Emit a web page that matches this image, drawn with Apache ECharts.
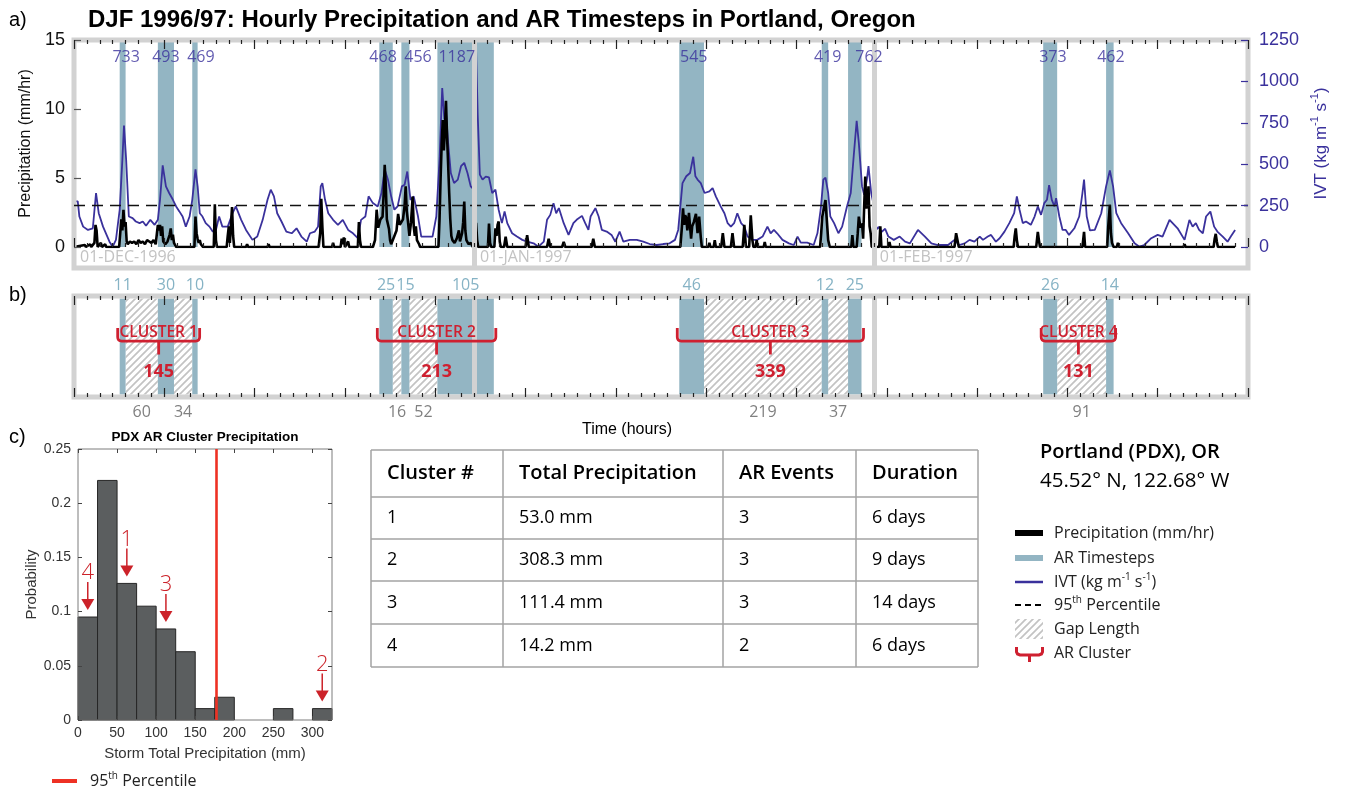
<!DOCTYPE html>
<html><head><meta charset="utf-8">
<script src="https://cdn.jsdelivr.net/npm/echarts@6/dist/echarts.min.js"></script>
<style>html,body{margin:0;padding:0;background:#fff}#c{width:1346px;height:791px}</style>
</head><body><div id="c"></div>
<script>
// ---------------- DATA ----------------
const monthLabels = ['01-DEC-1996', '01-JAN-1997', '01-FEB-1997'];
const monthStartHours = [0, 744, 1488];
const timeMax = 2184;

// AR timesteps (hours from 01-DEC-1996 00Z)
const arStart = [85, 156, 220, 568, 609, 676, 1126, 1391, 1440, 1803, 1920];
const arDuration = [11, 30, 10, 25, 15, 105, 46, 12, 25, 26, 14];
const arMaxIVT = [733, 493, 469, 468, 456, 1187, 545, 419, 762, 373, 462];
const ivtLabelHour = [97, 171, 236, 575, 640, 712, 1153, 1402, 1479, 1821, 1929];
const gapLength = [60, 34, 16, 52, 219, 37, 91];
const clusterBands = [[0, 1, 2], [3, 4, 5], [6, 7, 8], [9, 10]];
const clusterNames = ['CLUSTER 1', 'CLUSTER 2', 'CLUSTER 3', 'CLUSTER 4'];
const clusterTotal = [145, 213, 339, 131];
const ivtPercentile95 = 250;

// IVT (kg m-1 s-1), [hour, value]
const ivtPoints = [[0,275],[7,275],[10,184],[17,123],[26,103],[35,113],[41,326],[46,204],[54,123],[66,32],[72,2],[78,43],[85,225],[90,528],[93,733],[97,528],[102,184],[109,174],[115,154],[122,144],[128,154],[134,128],[142,164],[150,134],[156,164],[160,285],[165,493],[171,366],[177,326],[184,285],[190,245],[196,215],[202,184],[208,123],[215,184],[220,285],[226,469],[230,366],[234,204],[239,184],[245,144],[252,123],[258,93],[264,103],[270,184],[276,123],[286,123],[295,204],[301,245],[311,164],[320,103],[332,43],[341,63],[351,164],[360,285],[366,346],[372,306],[378,204],[386,154],[395,93],[405,83],[414,113],[423,63],[433,32],[439,83],[448,93],[454,123],[459,366],[462,386],[467,285],[473,204],[482,164],[491,134],[500,164],[510,103],[519,83],[528,53],[534,164],[542,184],[548,306],[556,265],[565,245],[572,326],[578,468],[584,407],[590,306],[596,225],[602,245],[610,366],[615,376],[620,456],[626,285],[632,306],[640,184],[646,63],[655,63],[667,63],[674,184],[680,528],[685,960],[689,771],[692,811],[696,629],[701,447],[707,386],[714,407],[720,488],[726,508],[732,447],[738,366],[744,346],[746,700],[748,1187],[751,800],[755,437],[760,407],[766,425],[772,420],[778,326],[784,346],[790,225],[796,144],[801,215],[806,144],[815,83],[824,63],[834,43],[843,32],[855,22],[864,2],[874,32],[880,164],[886,194],[892,265],[897,204],[902,235],[911,144],[920,73],[929,144],[935,164],[945,188],[951,144],[957,103],[961,184],[970,235],[976,184],[982,103],[991,93],[1000,73],[1007,32],[1015,93],[1022,32],[1034,43],[1047,43],[1059,32],[1071,18],[1084,12],[1096,18],[1108,22],[1118,43],[1124,103],[1128,245],[1132,386],[1139,427],[1146,447],[1152,545],[1156,427],[1160,407],[1166,386],[1173,326],[1182,336],[1188,356],[1194,306],[1203,245],[1210,204],[1216,144],[1222,123],[1228,144],[1234,204],[1241,144],[1247,123],[1253,63],[1262,43],[1271,43],[1281,63],[1290,123],[1296,83],[1302,103],[1308,83],[1318,43],[1330,22],[1339,12],[1346,63],[1352,26],[1364,26],[1376,12],[1383,83],[1389,225],[1394,407],[1398,419],[1403,326],[1407,184],[1414,144],[1422,83],[1429,123],[1438,245],[1445,326],[1451,569],[1456,762],[1460,629],[1466,366],[1470,316],[1475,407],[1478,488],[1483,326],[1488,250],[1492,103],[1497,121],[1502,90],[1509,110],[1515,63],[1525,43],[1536,63],[1546,32],[1555,22],[1570,103],[1583,63],[1595,22],[1607,12],[1626,12],[1638,43],[1647,12],[1657,22],[1666,43],[1675,32],[1685,63],[1691,43],[1700,63],[1706,73],[1715,32],[1722,53],[1731,93],[1740,144],[1749,204],[1754,306],[1759,225],[1765,144],[1771,154],[1780,134],[1787,184],[1793,245],[1799,194],[1805,265],[1810,285],[1814,373],[1819,285],[1824,245],[1827,295],[1833,184],[1839,103],[1845,103],[1851,73],[1861,113],[1870,184],[1876,326],[1879,407],[1884,184],[1890,100],[1899,103],[1911,204],[1920,366],[1927,462],[1933,366],[1939,204],[1948,144],[1961,83],[1973,22],[1982,2],[1991,12],[2004,53],[2016,73],[2025,63],[2038,164],[2053,113],[2066,43],[2075,164],[2081,123],[2087,144],[2093,103],[2100,83],[2106,184],[2114,214],[2121,123],[2127,93],[2137,63],[2146,32],[2152,63],[2160,103]];

// Hourly precipitation (mm/hr), [hour, value]
const precipPoints = [[0,0],[20,0.15],[22,0],[30,0.2],[32,0],[38,0.3],[40,1.6],[42,1.2],[44,0],[50,0.3],[52,0],[58,0.2],[60,0],[84,0],[86,1.0],[88,2.0],[90,1.2],[92,2.7],[94,1.5],[96,1.8],[98,0.4],[100,0.2],[104,0.4],[108,0.3],[112,0.4],[116,0.2],[120,0.5],[124,0.3],[128,0.4],[132,0.2],[136,0.5],[140,0.4],[144,0.3],[148,0.5],[152,0.2],[156,1.6],[158,1.2],[160,1.6],[162,0.8],[164,1.5],[166,0.4],[170,0.2],[174,0.4],[178,0.9],[180,1.35],[182,0.5],[184,0.9],[186,0.3],[190,0],[224,0],[226,2.2],[228,1.0],[230,0.6],[232,0.3],[234,0.5],[236,0.2],[240,0],[260,0],[262,3.1],[264,0.5],[266,0],[284,0],[286,0.8],[288,1.5],[290,0.3],[292,0.2],[294,2.9],[296,0.8],[298,0],[320,0],[322,0.2],[324,0],[360,0],[362,0.2],[364,0],[455,0],[458,1.0],[460,3.5],[462,1.5],[464,0],[480,0],[482,0.3],[484,0],[496,0],[498,0.6],[500,0.2],[502,0.7],[504,0],[510,0.4],[512,0],[528,0],[530,1.8],[532,0.5],[534,0],[556,0],[560,0.5],[563,2.7],[566,1.4],[570,2.0],[574,2.2],[576,3.8],[578,5.95],[580,4.5],[582,2.0],[584,1.95],[586,1.3],[588,0.5],[590,0.2],[596,0.8],[600,1.2],[603,2.4],[606,1.6],[609,1.8],[612,2.0],[615,3.0],[617,4.4],[619,2.6],[621,1.95],[624,0.8],[627,1.8],[630,3.65],[632,1.5],[634,0.8],[636,1.5],[638,0.5],[642,0.2],[644,0],[678,0],[680,2.0],[682,5.0],[684,7.5],[686,9.2],[688,7.0],[690,8.5],[692,10.6],[694,8.0],[696,6.0],[698,3.9],[700,2.0],[702,0.8],[704,0.5],[708,0.3],[712,0.6],[716,1.2],[718,0.4],[722,1.0],[724,1.8],[726,3.3],[728,1.2],[730,0.5],[734,0.2],[738,0.3],[742,0],[746,0],[748,1.75],[750,0.5],[752,0],[770,0],[772,1.7],[774,0.3],[776,0],[782,0],[784,1.35],[786,0.8],[788,1.6],[790,1.85],[792,0.4],[794,0],[800,0],[803,0.74],[806,0],[840,0],[843,0.86],[846,0],[880,0],[883,0.6],[886,0],[908,0],[911,0.37],[914,0],[963,0],[966,0.6],[969,0],[1128,0],[1131,1.5],[1133,2.8],[1135,1.6],[1137,2.3],[1139,2.1],[1141,1.2],[1144,2.47],[1146,1.5],[1148,0.6],[1150,1.5],[1153,1.8],[1157,2.4],[1160,1.0],[1163,2.2],[1166,0.7],[1168,0],[1180,0],[1182,0.3],[1184,0],[1190,0],[1192,0.5],[1194,0],[1204,0],[1207,1.0],[1210,0],[1222,0],[1225,1.0],[1228,0],[1244,0],[1247,1.6],[1250,0],[1256,0],[1259,2.3],[1262,0.5],[1264,0],[1268,0],[1270,0.5],[1272,0],[1283,0],[1285,0.37],[1287,0],[1388,0],[1390,1.0],[1392,2.2],[1395,2.8],[1398,3.4],[1400,2.2],[1403,0.5],[1406,0],[1446,0],[1448,0.86],[1450,0],[1456,0],[1458,1.0],[1460,2.2],[1463,1.4],[1466,1.7],[1468,0.6],[1470,3.0],[1472,5.1],[1474,2.8],[1476,3.0],[1478,4.4],[1480,1.5],[1482,1.0],[1484,0],[1488,0],[1490,0.5],[1492,0],[1498,0],[1500,1.5],[1502,0],[1515,0],[1517,0.37],[1519,0],[1638,0],[1641,1.0],[1644,0.4],[1646,0],[1748,0],[1750,0.8],[1752,1.35],[1754,0.5],[1756,0],[1790,0],[1793,1.1],[1795,0.5],[1797,0],[1876,0],[1879,1.1],[1881,0],[1922,0],[1924,1.5],[1927,3.06],[1929,1.0],[1931,0.3],[1934,0],[1940,0],[1942,0.3],[1944,0],[2064,0],[2066,0.2],[2068,0],[2120,0],[2122,0.6],[2124,0.95],[2126,0.4],[2128,0],[2160,0]];

// Histogram (panel c)
const histBinEdges = [0, 25, 50, 75, 100, 125, 150, 175, 200, 225, 250, 275, 300, 325];
const histProb = [0.095, 0.221, 0.126, 0.105, 0.084, 0.063, 0.0105, 0.021, 0, 0, 0.0105, 0, 0.0105];
const histXTicks = [0, 50, 100, 150, 200, 250, 300];
const histPercentile95 = 177;

// Table
const tableHeader = ['Cluster #', 'Total Precipitation', 'AR Events', 'Duration'];
const clusterIds = ['1', '2', '3', '4'];
const clusterPrecipMM = [53.0, 308.3, 111.4, 14.2];
const clusterAREvents = [3, 3, 3, 2];
const clusterDurationDays = [6, 9, 14, 6];

// ---------------- STYLE ----------------
const purple = '#3a319c';
const bandColor = '#93b5c3';
const frameColor = '#d2d2d2';
const red = '#cf2030';
const AX = 'Liberation Sans';
const OS = 'Open Sans';

function makeHatch() {
  const n = 7, c = document.createElement('canvas');
  c.width = n; c.height = n;
  const g = c.getContext('2d');
  g.fillStyle = '#ffffff'; g.fillRect(0, 0, n, n);
  g.strokeStyle = '#c3c3c3'; g.lineWidth = 1.7;
  g.beginPath();
  g.moveTo(-1, n + 1); g.lineTo(n + 1, -1);
  g.moveTo(-1, 1); g.lineTo(1, -1);
  g.moveTo(n - 1, n + 1); g.lineTo(n + 1, n - 1);
  g.stroke();
  return c;
}
const hatchFill = { image: makeHatch(), repeat: 'repeat' };

// derived
const bandEnds = arStart.map((s, i) => s + arDuration[i]);
const gaps = [];
(function () {
  let gi = 0;
  clusterBands.forEach(b => {
    for (let k = 0; k < b.length - 1; k++) {
      gaps.push({ s: bandEnds[b[k]], e: arStart[b[k + 1]], len: gapLength[gi++] });
    }
  });
})();
const clusterSpans = clusterBands.map((b, i) => [arStart[b[0]], bandEnds[b[b.length - 1]], clusterTotal[i]]);
const clusterArrows = clusterPrecipMM.map((v, i) => {
  const bin = Math.min(Math.floor(v / 25), histProb.length - 1);
  return [(histBinEdges[bin] + histBinEdges[bin + 1]) / 2, histProb[bin], clusterIds[i]];
});

const noZero = () => ({ show: false, onZero: false });
const blankLabel = () => ({ show: true, color: 'rgba(0,0,0,0)', fontSize: 6, formatter: () => ' ' });
function timeAxis(grid, inside, extra) {
  return Object.assign({
    type: 'value', gridIndex: grid, position: 'bottom', min: 0, max: timeMax, interval: 168, z: 6,
    axisLine: noZero(), splitLine: { show: false },
    axisTick: { show: true, inside: inside, length: 9, lineStyle: { color: '#222', width: 1.2 } },
    minorTick: { show: true, splitNumber: 7, length: 4, lineStyle: { color: '#222', width: 1.2 } },
    axisLabel: blankLabel()
  }, extra || {});
}
const hiddenY = g => ({ type: 'value', gridIndex: g, min: 0, max: 1, show: false, axisLine: noZero() });

const sepLine = () => ({ silent: true, symbol: 'none', label: { show: false },
  lineStyle: { color: frameColor, width: 5, type: 'solid' },
  data: monthStartHours.slice(1).map(h => ({ xAxis: h })) });

// ---------------- GRAPHIC ----------------
const G = [];
function txt(x, y, text, o) {
  o = o || {};
  G.push({ type: 'text', x: x, y: y, z: 50, style: Object.assign({
    text: text, fill: o.fill || '#000', fontSize: o.size || 16, fontFamily: o.font || OS,
    fontWeight: o.weight || 'normal', align: o.align || 'left', verticalAlign: 'middle',
    textAlign: o.align || 'left', textVerticalAlign: 'middle'
  }, o.rich ? { rich: o.rich } : {}) });
}
txt(88, 20, 'DJF 1996/97: Hourly Precipitation and AR Timesteps in Portland, Oregon', { size: 24, weight: 'bold', font: AX });
txt(9, 20, 'a)', { size: 20, font: AX });
txt(9, 295, 'b)', { size: 20, font: AX });
txt(9, 437, 'c)', { size: 20, font: AX });
txt(627, 430, 'Time (hours)', { size: 16, font: AX, align: 'center' });
txt(205, 437, 'PDX AR Cluster Precipitation', { size: 13.5, font: AX, weight: 'bold', align: 'center' });

// table
const colX = [371, 503, 723, 856, 978];
const rowY = [450, 497, 539, 581, 624, 667];
colX.forEach(x => G.push({ type: 'line', z: 40, shape: { x1: x, y1: rowY[0], x2: x, y2: rowY[rowY.length - 1] }, style: { stroke: '#a3a3a3', lineWidth: 1.5 } }));
rowY.forEach(y => G.push({ type: 'line', z: 40, shape: { x1: colX[0], y1: y, x2: colX[colX.length - 1], y2: y }, style: { stroke: '#a3a3a3', lineWidth: 1.5 } }));
tableHeader.forEach((h, i) => txt(colX[i] + 16, (rowY[0] + rowY[1]) / 2, h, { size: 20, weight: 600 }));
const tableRows = clusterIds.map((id, r) => [id, clusterPrecipMM[r].toFixed(1) + ' mm', String(clusterAREvents[r]), clusterDurationDays[r] + ' days']);
tableRows.forEach((row, r) => row.forEach((cell, i) => txt(colX[i] + 16, (rowY[r + 1] + rowY[r + 2]) / 2, cell, { size: 18 })));

// station info
txt(1040, 452, 'Portland (PDX), OR', { size: 20, weight: 600 });
txt(1040, 481, '45.52\u00b0 N, 122.68\u00b0 W', { size: 20.5 });

// legend
const supRich = { n: { fontSize: 16, lineHeight: 20, fontFamily: OS, fill: '#222', color: '#222' }, s: { fontSize: 10, lineHeight: 20, fontFamily: OS, verticalAlign: 'top', padding: [0, 0, 9, 0], fill: '#222', color: '#222' } };
const legY = [533, 558, 582, 605, 629, 653];
G.push({ type: 'rect', z: 40, shape: { x: 1015, y: legY[0] - 3, width: 28, height: 6 }, style: { fill: '#000' } });
G.push({ type: 'rect', z: 40, shape: { x: 1015, y: legY[1] - 3, width: 28, height: 6 }, style: { fill: bandColor } });
G.push({ type: 'line', z: 40, shape: { x1: 1015, y1: legY[2], x2: 1043, y2: legY[2] }, style: { stroke: purple, lineWidth: 2.5 } });
G.push({ type: 'line', z: 40, shape: { x1: 1015, y1: legY[3], x2: 1043, y2: legY[3] }, style: { stroke: '#000', lineWidth: 2, lineDash: [6, 4] } });
G.push({ type: 'rect', z: 40, shape: { x: 1015, y: legY[4] - 10, width: 28, height: 20 }, style: { fill: hatchFill } });
G.push({ type: 'polyline', z: 40, shape: { points: [[1016.5, 647], [1016.5, 652], [1017.5, 654], [1020, 655], [1039, 655], [1041.5, 654], [1042.5, 652], [1042.5, 647]] }, style: { stroke: red, lineWidth: 3, fill: null } });
G.push({ type: 'line', z: 40, shape: { x1: 1029.5, y1: 655, x2: 1029.5, y2: 662 }, style: { stroke: red, lineWidth: 3 } });
txt(1054, legY[0], 'Precipitation (mm/hr)', { fill: '#222' });
txt(1054, legY[1], 'AR Timesteps', { fill: '#222' });
txt(1054, legY[2], '{n|IVT (kg m}{s|-1}{n| s}{s|-1}{n|)}', { rich: supRich });
txt(1054, legY[3], '{n|95}{s|th}{n| Percentile}', { rich: supRich });
txt(1054, legY[4], 'Gap Length', { fill: '#222' });
txt(1054, legY[5], 'AR Cluster', { fill: '#222' });

// histogram legend
G.push({ type: 'line', z: 40, shape: { x1: 52, y1: 781, x2: 77, y2: 781 }, style: { stroke: '#ee3124', lineWidth: 4 } });
txt(90, 781, '{n|95}{s|th}{n| Percentile}', { rich: supRich });

// ---------------- CHART ----------------
const chart = echarts.init(document.getElementById('c'), null, { renderer: 'canvas' });
chart.setOption({
  animation: false,
  backgroundColor: '#fff',
  grid: [
    { left: 74, top: 40, width: 1174, height: 207, show: false },
    { left: 74, top: 296, width: 1174, height: 101, show: true, borderColor: frameColor, borderWidth: 5, backgroundColor: 'rgba(0,0,0,0)', z: 5 },
    { left: 78, top: 449, width: 254, height: 271, show: true, borderColor: '#7d7d7d', borderWidth: 1, backgroundColor: 'rgba(0,0,0,0)', z: 5 },
    { left: 74, top: 40, width: 1174, height: 228, show: true, borderColor: frameColor, borderWidth: 5, backgroundColor: 'rgba(0,0,0,0)', z: 5 },
    { left: 74, top: 30, width: 1174, height: 10, show: false },
    { left: 74, top: 286, width: 1174, height: 10, show: false },
    { left: 78, top: 439, width: 254, height: 10, show: false }
  ],
  xAxis: [
    timeAxis(0, true, {
      axisLabel: { show: true, customValues: monthStartHours, formatter: v => monthLabels[monthStartHours.indexOf(v)] || '',
        align: 'left', padding: [0, 0, 0, 6], margin: 2, color: '#c3c3c3', fontSize: 16, fontFamily: OS }
    }),
    timeAxis(1, true),
    { type: 'value', gridIndex: 2, position: 'bottom', min: 0, max: 325, z: 6,
      axisLine: noZero(), splitLine: { show: false },
      axisTick: { show: true, inside: true, length: 4, customValues: histXTicks, lineStyle: { color: '#444' } },
      axisLabel: { customValues: histXTicks, color: '#333', fontSize: 14, fontFamily: AX, margin: 6 },
      name: 'Storm Total Precipitation (mm)', nameLocation: 'middle', nameGap: 26,
      nameTextStyle: { fontSize: 15, fontFamily: AX, color: '#333' } },
    { type: 'value', gridIndex: 3, min: 0, max: timeMax, show: false, axisLine: noZero() },
    timeAxis(4, false),
    timeAxis(5, false),
    { type: 'value', gridIndex: 6, position: 'bottom', min: 0, max: 325, z: 6,
      axisLine: noZero(), splitLine: { show: false }, axisLabel: Object.assign(blankLabel(), { customValues: histXTicks }),
      axisTick: { show: true, inside: false, length: 4, customValues: histXTicks, lineStyle: { color: '#444' } } }
  ],
  yAxis: [
    { type: 'value', gridIndex: 0, position: 'left', min: 0, max: 15, interval: 5, z: 6,
      axisLine: noZero(), splitLine: { show: false },
      axisTick: { show: true, inside: true, length: 7, lineStyle: { color: '#555', width: 1.2 } },
      axisLabel: { color: '#111', fontSize: 18, fontFamily: AX, margin: 9 },
      name: 'Precipitation (mm/hr)', nameLocation: 'middle', nameGap: 36, nameRotate: 90,
      nameTextStyle: { fontSize: 16, fontFamily: AX, color: '#111' } },
    { type: 'value', gridIndex: 0, position: 'right', min: 0, max: 1250, interval: 250, z: 6,
      axisLine: noZero(), splitLine: { show: false },
      axisTick: { show: true, inside: true, length: 7, lineStyle: { color: purple, width: 1.2 } },
      axisLabel: { color: purple, fontSize: 18, fontFamily: AX, margin: 11, formatter: v => String(v) },
      name: '{n|IVT (kg m}{s|-1}{n| s}{s|-1}{n|)}', nameLocation: 'middle', nameGap: 61, nameRotate: 90,
      nameTextStyle: { color: purple, rich: {
        n: { fontSize: 17, fontFamily: AX, color: purple, lineHeight: 22 },
        s: { fontSize: 11, fontFamily: AX, color: purple, lineHeight: 22, verticalAlign: 'top', padding: [0, 0, 10, 0] } } } },
    hiddenY(1),
    { type: 'value', gridIndex: 2, position: 'left', min: 0, max: 0.25, interval: 0.05, z: 6,
      axisLine: noZero(), splitLine: { show: false },
      axisTick: { show: true, inside: true, length: 4, lineStyle: { color: '#444' } },
      axisLabel: { color: '#333', fontSize: 14, fontFamily: AX, margin: 7, formatter: v => String(parseFloat(v.toFixed(2))) },
      name: 'Probability', nameLocation: 'middle', nameGap: 37, nameRotate: 90,
      nameTextStyle: { fontSize: 15, fontFamily: AX, color: '#333' } },
    { type: 'value', gridIndex: 2, position: 'right', min: 0, max: 0.25, interval: 0.05, z: 6,
      axisLine: noZero(), splitLine: { show: false }, axisLabel: blankLabel(),
      axisTick: { show: true, inside: true, length: 4, lineStyle: { color: '#444' } } },
    hiddenY(3), hiddenY(4), hiddenY(5), hiddenY(6)
  ],
  series: [
    // ---- panel a ----
    { name: 'AR Timesteps', type: 'line', xAxisIndex: 0, yAxisIndex: 0, data: [], z: 1, silent: true,
      markArea: { silent: true, itemStyle: { color: bandColor },
        data: arStart.map((s, i) => [{ xAxis: s }, { xAxis: bandEnds[i] }]) } },
    { name: 'IVT', type: 'line', xAxisIndex: 0, yAxisIndex: 1, data: ivtPoints, symbol: 'none', z: 3,
      lineStyle: { color: purple, width: 1.8 },
      markLine: { silent: true, symbol: 'none', label: { show: false },
        lineStyle: { color: '#111', type: [11, 7], width: 1.3 }, data: [{ yAxis: ivtPercentile95 }] } },
    { name: 'Precipitation', type: 'line', xAxisIndex: 0, yAxisIndex: 0, data: precipPoints, symbol: 'none', z: 4,
      lineStyle: { color: '#000', width: 2.6 } },
    { name: 'IVT max', type: 'scatter', xAxisIndex: 0, yAxisIndex: 1, z: 7, silent: true,
      data: ivtLabelHour.map(h => [h, 1147]), symbolSize: 1, itemStyle: { color: 'rgba(0,0,0,0)' },
      label: { show: true, position: 'inside', formatter: p => String(arMaxIVT[p.dataIndex]), color: purple, fontSize: 16, fontFamily: OS } },
    { name: 'sepA', type: 'line', xAxisIndex: 3, yAxisIndex: 5, data: [], z: 5, markLine: sepLine() },
    // ---- panel b ----
    { name: 'gapsB', type: 'line', xAxisIndex: 1, yAxisIndex: 2, data: [], z: 1, silent: true,
      markArea: { silent: true, itemStyle: { color: hatchFill },
        label: { show: true, position: 'bottom', distance: 10, color: '#808080', fontSize: 16, fontFamily: OS },
        data: gaps.map(g => [{ xAxis: g.s, yAxis: 0.025, name: String(g.len) }, { xAxis: g.e, yAxis: 0.975 }]) } },
    { name: 'bandsB', type: 'line', xAxisIndex: 1, yAxisIndex: 2, data: [], z: 2, silent: true,
      markArea: { silent: true, itemStyle: { color: bandColor },
        label: { show: true, position: 'top', distance: 5, color: '#86b3c5', fontSize: 16, fontFamily: OS },
        data: arStart.map((s, i) => [{ xAxis: s, yAxis: 0.025, name: String(arDuration[i]) }, { xAxis: bandEnds[i], yAxis: 0.975 }]) } },
    { name: 'sepB', type: 'line', xAxisIndex: 1, yAxisIndex: 2, data: [], z: 5, markLine: sepLine() },
    { name: 'clusters', type: 'custom', xAxisIndex: 1, yAxisIndex: 2, z: 8, silent: true, clip: false,
      data: clusterSpans, encode: { x: [0, 1] },
      renderItem: function (params, api) {
        const a = api.coord([api.value(0), 0.554]), b = api.coord([api.value(1), 0.554]);
        const yTop = api.coord([api.value(0), 0.683])[1];
        const yStem = api.coord([api.value(0), 0.42])[1];
        const yTxt = api.coord([api.value(0), 0.634])[1];
        const yNum = api.coord([api.value(0), 0.248])[1];
        const x1 = a[0] - 2, x2 = b[0] + 2, y0 = a[1], xc = (x1 + x2) / 2;
        const d = 'M' + x1 + ' ' + yTop + ' L' + x1 + ' ' + (y0 - 4) + ' Q' + x1 + ' ' + y0 + ' ' + (x1 + 4) + ' ' + y0 +
          ' L' + (x2 - 4) + ' ' + y0 + ' Q' + x2 + ' ' + y0 + ' ' + x2 + ' ' + (y0 - 4) + ' L' + x2 + ' ' + yTop +
          ' M' + xc + ' ' + y0 + ' L' + xc + ' ' + yStem;
        return { type: 'group', children: [
          { type: 'path', shape: { pathData: d }, style: { stroke: red, lineWidth: 2.8, fill: null } },
          { type: 'text', style: { x: xc, y: yTxt, text: clusterNames[params.dataIndex], fill: red, fontSize: 15.5, fontWeight: 600, fontFamily: OS, align: 'center', verticalAlign: 'middle' } },
          { type: 'text', style: { x: xc, y: yNum, text: String(api.value(2)), fill: red, fontSize: 18, fontWeight: 'bold', fontFamily: OS, align: 'center', verticalAlign: 'middle' } }
        ] };
      } },
    // ---- panel c ----
    { name: 'hist', type: 'custom', xAxisIndex: 2, yAxisIndex: 3, z: 3, silent: true,
      data: histProb.map((p, i) => [histBinEdges[i], histBinEdges[i + 1], p]), encode: { x: [0, 1], y: 2 },
      renderItem: function (params, api) {
        const p = api.value(2);
        if (!p) return null;
        const a = api.coord([api.value(0), p]), b = api.coord([api.value(1), 0]);
        return { type: 'rect', shape: { x: a[0], y: a[1], width: b[0] - a[0], height: b[1] - a[1] },
          style: { fill: '#5b5e5f', stroke: '#262626', lineWidth: 1 } };
      },
      markLine: { silent: true, symbol: 'none', label: { show: false }, lineStyle: { color: '#ee3124', width: 2.6, type: 'solid' },
        data: [{ xAxis: histPercentile95 }] } },
    { name: 'arrows', type: 'custom', xAxisIndex: 2, yAxisIndex: 3, z: 8, silent: true, clip: false,
      data: clusterArrows.map(a => [a[0], a[1]]), encode: { x: 0, y: 1 },
      renderItem: function (params, api) {
        const p = api.coord([api.value(0), api.value(1)]);
        const x = p[0], tip = p[1] - 7;
        return { type: 'group', children: [
          { type: 'line', shape: { x1: x, y1: tip - 28, x2: x, y2: tip - 9 }, style: { stroke: '#cc2229', lineWidth: 1.5 } },
          { type: 'polygon', shape: { points: [[x - 6.5, tip - 11], [x + 6.5, tip - 11], [x, tip]] }, style: { fill: '#cc2229' } },
          { type: 'text', style: { x: x, y: tip - 37, text: clusterArrows[params.dataIndex][2], fill: '#cc2229', fontSize: 22, fontFamily: OS, fontWeight: 300, align: 'center', verticalAlign: 'middle' } }
        ] };
      } }
  ],
  graphic: { elements: G }
});
</script></body></html>
